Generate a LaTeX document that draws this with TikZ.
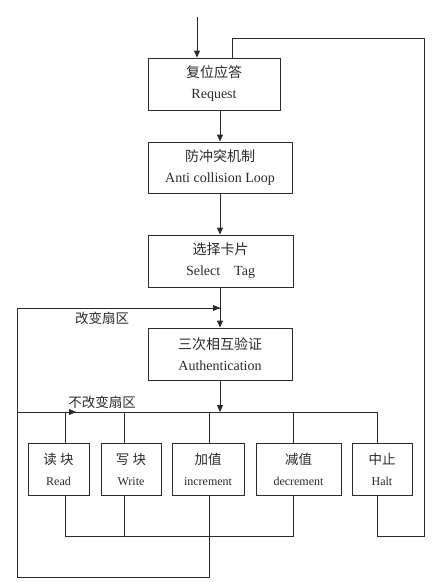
\documentclass[tikz,border=0pt]{standalone}
\usepackage{fontspec}
\setmainfont{Liberation Serif}
\newfontfamily\cjk{Noto Sans CJK SC}
\usetikzlibrary{arrows.meta,calc}
\definecolor{ink}{HTML}{2A2A2A}
\tikzset{
  box/.style={draw=ink,line width=0.9pt,minimum height=52pt,inner sep=0pt,align=center,text=ink,font=\fontsize{14}{21}\selectfont},
  sbox/.style={draw=ink,line width=0.9pt,minimum height=52pt,inner sep=0pt,align=center,text=ink,font=\fontsize{12}{21}\selectfont},
  ln/.style={draw=ink,line width=0.9pt},
  arr/.style={ln,-{Triangle[length=7pt,width=6pt]}},
  lbl/.style={text=ink,font=\cjk\fontsize{13.5}{16}\selectfont,inner sep=0pt}
}
\begin{document}
\begin{tikzpicture}[x=1pt,y=-1pt]
\useasboundingbox (0,0) rectangle (440,582);
% main column
\node[box,minimum width=132pt] (req) at (214,84) {{\cjk 复位应答}\\Request};
\node[box,minimum width=144pt,minimum height=51pt] (anti) at (220,167.5) {{\cjk 防冲突机制}\\Anti collision Loop};
\node[box,minimum width=145pt] (sel) at (220.5,261) {{\cjk 选择卡片}\\Select\quad Tag};
\node[box,minimum width=144pt] (auth) at (220,354) {{\cjk 三次相互验证}\\Authentication};
% bottom row
\node[sbox,minimum width=61pt] (read) at (58.5,469) {{\cjk\fontsize{13.5}{21}\selectfont 读\ 块}\\Read};
\node[sbox,minimum width=60pt] (write) at (131,469) {{\cjk\fontsize{13.5}{21}\selectfont 写\ 块}\\Write};
\node[sbox,minimum width=72pt] (inc) at (208,469) {{\cjk\fontsize{13.5}{21}\selectfont 加值}\\increment};
\node[sbox,minimum width=85pt] (dec) at (298.5,469) {{\cjk\fontsize{13.5}{21}\selectfont 减值}\\decrement};
\node[sbox,minimum width=60pt] (halt) at (382,469) {{\cjk\fontsize{13.5}{21}\selectfont 中止}\\Halt};
% labels
\node[lbl] (l1) at (102,318) {改变扇区};
\node[lbl] (l2) at (102,402) {不改变扇区};
% coordinates
\coordinate (in) at (197,17);
\coordinate (busL) at (17,412);
\coordinate (busR) at (377,412);
\coordinate (busA) at (76,412);
\coordinate (loopT) at (17,308);
\coordinate (loopA) at (220,308);
\coordinate (loopB) at (17,577);
\coordinate (retL) at (65,536);
\coordinate (retR) at (293,536);
\coordinate (hb) at (377,536);
\coordinate (hr) at (424,536);
\coordinate (ht) at (424,38);
\coordinate (hl) at (232,38);
% main arrows
\draw[arr] (in) -- (in |- req.north);
\draw[arr] (req.south -| loopA) -- (anti.north -| loopA);
\draw[arr] (anti.south -| loopA) -- (sel.north -| loopA);
\draw[arr] (sel.south -| loopA) -- (auth.north -| loopA);
\draw[arr] (auth.south -| loopA) -- (busL -| loopA);
% bus
\draw[ln] (busL) -- (busR);
\draw[arr] (busL) -- (busA);
\draw[ln] (busL -| retL) -- (read.north -| retL);
\draw[ln] (busL -| 124,0) -- (write.north -| 124,0);
\draw[ln] (busL -| 209,0) -- (inc.north -| 209,0);
\draw[ln] (busL -| retR) -- (dec.north -| retR);
\draw[ln] (busR) -- (halt.north -| busR);
% returns
\draw[ln] (read.south -| retL) -- (retL) -- (retR) -- (dec.south -| retR);
\draw[ln] (write.south -| 124,0) -- (124,536);
\draw[ln] (inc.south -| 209,0) -- (209,577) -- (loopB) -- (loopT) -- (loopA);
\draw[arr] (loopT) -- (loopA);
\draw[ln] (halt.south -| hb) -- (hb) -- (hr) -- (ht) -- (hl) -- (hl |- req.north);
\end{tikzpicture}
\end{document}
